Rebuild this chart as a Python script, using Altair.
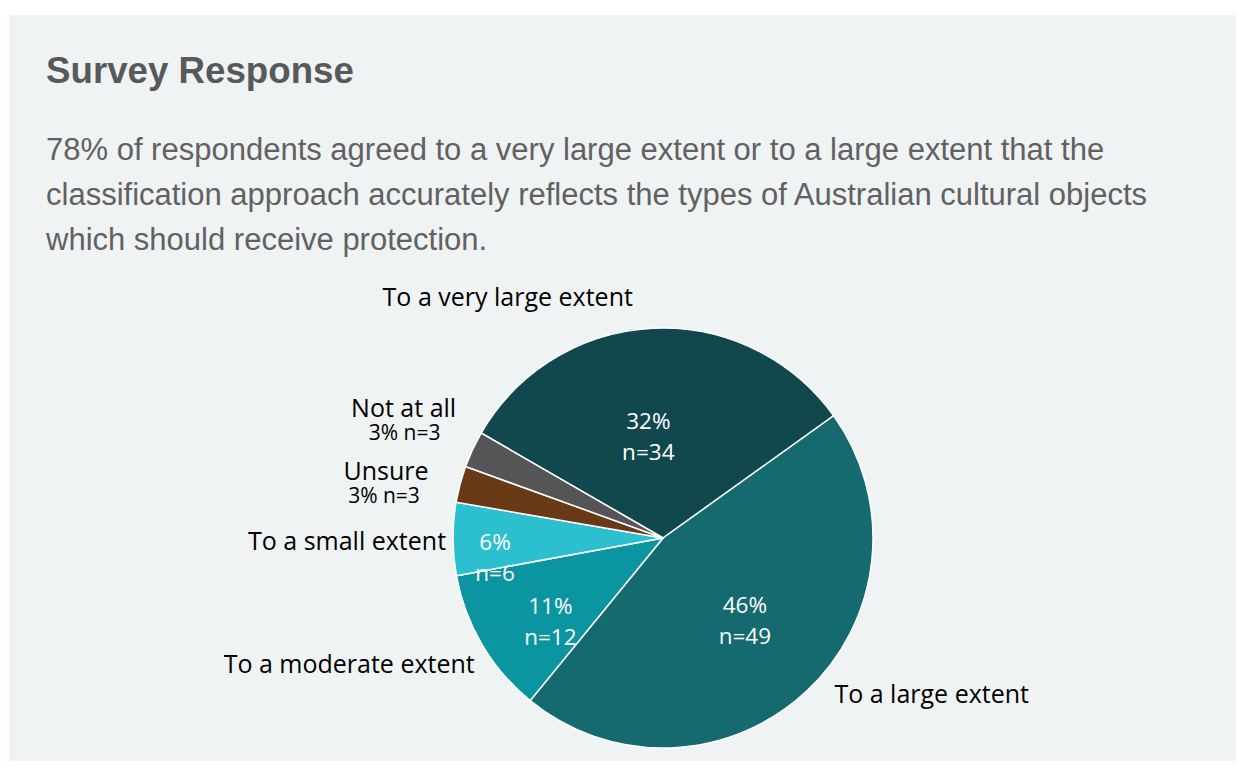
import math
import altair as alt
import pandas as pd

# ---- data ----
categories = ["To a very large extent", "To a large extent", "To a moderate extent",
              "To a small extent", "Unsure", "Not at all"]
counts = [34, 49, 12, 6, 3, 3]
colors = ["#11484e", "#156a70", "#0a95a0", "#2cbfd0", "#6a3a17", "#555557"]
title_text = "Survey Response"
subtitle_lines = [
    "78% of respondents agreed to a very large extent or to a large extent that the",
    "classification approach accurately reflects the types of Australian cultural objects",
    "which should receive protection.",
]

# ---- layout ----
W, H = 1227, 746
CX, CY, R = 654, 523, 210
START = -math.pi / 3
LABEL_FONT = "Open Sans"

df = pd.DataFrame({"cat": categories, "n": counts, "order": list(range(len(categories)))})

base = (
    alt.Chart(df)
    .transform_joinaggregate(total="sum(n)")
    .transform_window(cum="sum(n)", sort=[alt.SortField("order")], frame=[None, 0])
    .transform_calculate(
        mid=f"{START} + 2*PI*(datum.cum - datum.n/2)/datum.total",
        pct="format(datum.n/datum.total, '.0%')",
    )
)

pie = alt.Chart(df).mark_arc(radius=R, stroke="white", strokeWidth=1.5).encode(
    theta=alt.Theta("n:Q", stack=True, scale=alt.Scale(range=[START, START + 2 * math.pi])),
    color=alt.Color("cat:N", scale=alt.Scale(domain=categories, range=colors), legend=None),
    order=alt.Order("order:Q"),
    x=alt.value(CX),
    y=alt.value(CY),
)


def polar_text(cat, r, expr, dx, dy, size, color, align="center", baseline="alphabetic"):
    return (
        base.transform_filter(alt.datum.cat == cat)
        .transform_calculate(
            px=f"{CX} + {r}*sin(datum.mid)",
            py=f"{CY} - {r}*cos(datum.mid)",
            lbl=expr,
        )
        .mark_text(font=LABEL_FONT, fontSize=size, color=color, align=align,
                   baseline=baseline, dx=dx, dy=dy, lineBreak="\n", lineHeight=31)
        .encode(
            x=alt.X("px:Q", scale=None, axis=None),
            y=alt.Y("py:Q", scale=None, axis=None),
            text="lbl:N",
        )
    )


inner_expr = "datum.pct + '\\n' + 'n=' + datum.n"
small_expr = "datum.pct + ' n=' + datum.n"
name_expr = "datum.cat"

inner = {
    "To a very large extent": (116, -9, 0),
    "To a large extent": (105, 10, -9),
    "To a moderate extent": (132, 1, 2),
    "To a small extent": (168, 0, 4),
}
outer = {
    "To a very large extent": (-145, -22),
    "To a large extent": (125, 12),
    "To a moderate extent": (-133, 28),
    "To a small extent": (-106, 11),
}

layers = [pie]
for cat, (r, dx, dy) in inner.items():
    layers.append(polar_text(cat, r, inner_expr, dx, dy, 22.5, "white", baseline="middle"))
for cat, (dx, dy) in outer.items():
    layers.append(polar_text(cat, R, name_expr, dx, dy, 25, "black"))

layers.append(polar_text("Unsure", R, name_expr, -74, -4, 25, "black"))
layers.append(polar_text("Unsure", R, small_expr, -76, 19, 21, "black"))
layers.append(polar_text("Not at all", R, name_expr, -69, -32, 25, "black"))
layers.append(polar_text("Not at all", R, small_expr, -68, -9, 21, "black"))

title = alt.Chart(pd.DataFrame({"t": [title_text]})).mark_text(
    font="Liberation Sans", fontSize=36.7, fontWeight="bold", color="#58595b",
    align="left", baseline="alphabetic",
).encode(x=alt.value(37), y=alt.value(68), text="t:N")

subtitle = alt.Chart(pd.DataFrame({"t": ["\n".join(subtitle_lines)]})).mark_text(
    font="Liberation Sans", fontSize=31, color="#616163",
    align="left", baseline="alphabetic", lineBreak="\n", lineHeight=45,
).encode(x=alt.value(37), y=alt.value(145), text="t:N")

layers += [title, subtitle]

chart = (
    alt.layer(*layers)
    .properties(width=W, height=H, background="white",
                padding={"left": 1, "top": 7, "right": 0, "bottom": 0})
    .configure_view(fill="#f0f3f4", strokeWidth=0)
)

chart.save("out.html", embed_options={"renderer": "svg", "actions": False})
